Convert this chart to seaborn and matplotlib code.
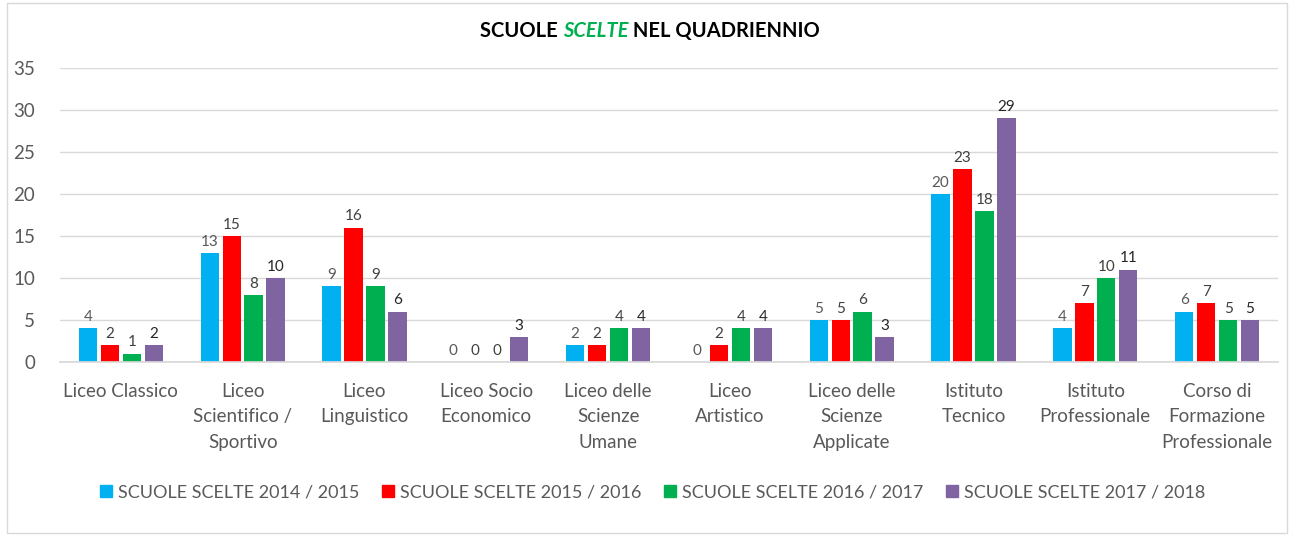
import matplotlib
matplotlib.use("Agg")
import matplotlib.pyplot as plt
import seaborn as sns
import pandas as pd
from matplotlib.patches import Rectangle
from matplotlib.lines import Line2D

categories = ["Liceo Classico", "Liceo\nScientifico /\nSportivo", "Liceo\nLinguistico",
              "Liceo Socio\nEconomico", "Liceo delle\nScienze\nUmane", "Liceo\nArtistico",
              "Liceo delle\nScienze\nApplicate", "Istituto\nTecnico", "Istituto\nProfessionale",
              "Corso di\nFormazione\nProfessionale"]
series_names = ["SCUOLE SCELTE 2014 / 2015", "SCUOLE SCELTE 2015 / 2016",
                "SCUOLE SCELTE 2016 / 2017", "SCUOLE SCELTE 2017 / 2018"]
v2014 = [4, 13, 9, 0, 2, 0, 5, 20, 4, 6]
v2015 = [2, 15, 16, 0, 2, 2, 5, 23, 7, 7]
v2016 = [1, 8, 9, 0, 4, 4, 6, 18, 10, 5]
v2017 = [2, 10, 6, 3, 4, 4, 3, 29, 11, 5]
colors = ["#00B0F0", "#FF0000", "#00B050", "#8064A2"]
yticks = [0, 5, 10, 15, 20, 25, 30, 35]

rows = []
for name, vals in zip(series_names, [v2014, v2015, v2016, v2017]):
    for c, v in zip(categories, vals):
        rows.append({"cat": c, "serie": name, "val": v})
df = pd.DataFrame(rows)

sns.set_theme(style="white")
plt.rcParams['font.family'] = ['Lato', 'DejaVu Sans']

fig = plt.figure(figsize=(12.9, 5.36), dpi=100)
ax = fig.add_axes([60/1290, 1-362/536, 1218/1290, 294/536])
sns.barplot(data=df, x="cat", y="val", hue="serie", palette=colors, ax=ax,
            order=categories, hue_order=series_names, width=0.72, gap=0.16,
            linewidth=0, saturation=1)

ax.set_ylim(0, 35)
ax.set_yticks(yticks)
ax.set_yticklabels([str(t) for t in yticks], fontsize=13.5, color="#595959")
ax.yaxis.grid(True, color="#D9D9D9", linewidth=1)
ax.set_axisbelow(True)
for s in ["top", "right", "left"]:
    ax.spines[s].set_visible(False)
ax.spines["bottom"].set_color("#D9D9D9")
ax.tick_params(axis="y", length=0, pad=18)
ax.tick_params(axis="x", length=0, pad=15)
ax.set_xticks(range(len(categories)))
ax.set_xticklabels(categories, fontsize=13.5, color="#595959", linespacing=1.6, va="top")
ax.set_xlabel("")
ax.set_ylabel("")

label_colors = ["#595959", "#404040", "#404040", "#262626"]
for cont, lc in zip(ax.containers, label_colors):
    ax.bar_label(cont, fmt="%d", padding=3, fontsize=11, color=lc)

ax.legend_.remove()
h = [Line2D([], [], marker="s", linestyle="", color=c, markersize=9) for c in colors]
fig.legend(h, series_names, loc="center", bbox_to_anchor=(652/1290, 1-492/536), ncol=4,
           frameon=False, fontsize=13, handletextpad=0.25, columnspacing=1.2,
           labelcolor="#595959", handlelength=0.8)

# Title in three coloured pieces
fig.canvas.draw()
r = fig.canvas.get_renderer()
parts = [("SCUOLE ", "#000000", "normal"), ("SCELTE", "#00B050", "italic"), (" NEL QUADRIENNIO", "#000000", "normal")]
texts = []
widths = []
for t, c, st in parts:
    tx = fig.text(0, 1-31/536, t, color=c, fontsize=14.5, fontweight="bold", style=st, va="center", ha="left")
    texts.append(tx)
    widths.append(tx.get_window_extent(r).width)
total = sum(widths)
x0 = 650 - total/2
for tx, w in zip(texts, widths):
    tx.set_x(x0/1290)
    x0 += w

fig.patches.append(Rectangle((7/1290, 3/536), 1280/1290, 530/536, transform=fig.transFigure,
                             fill=False, edgecolor="#D9D9D9", linewidth=1))

fig.savefig("out.png", dpi=100)
